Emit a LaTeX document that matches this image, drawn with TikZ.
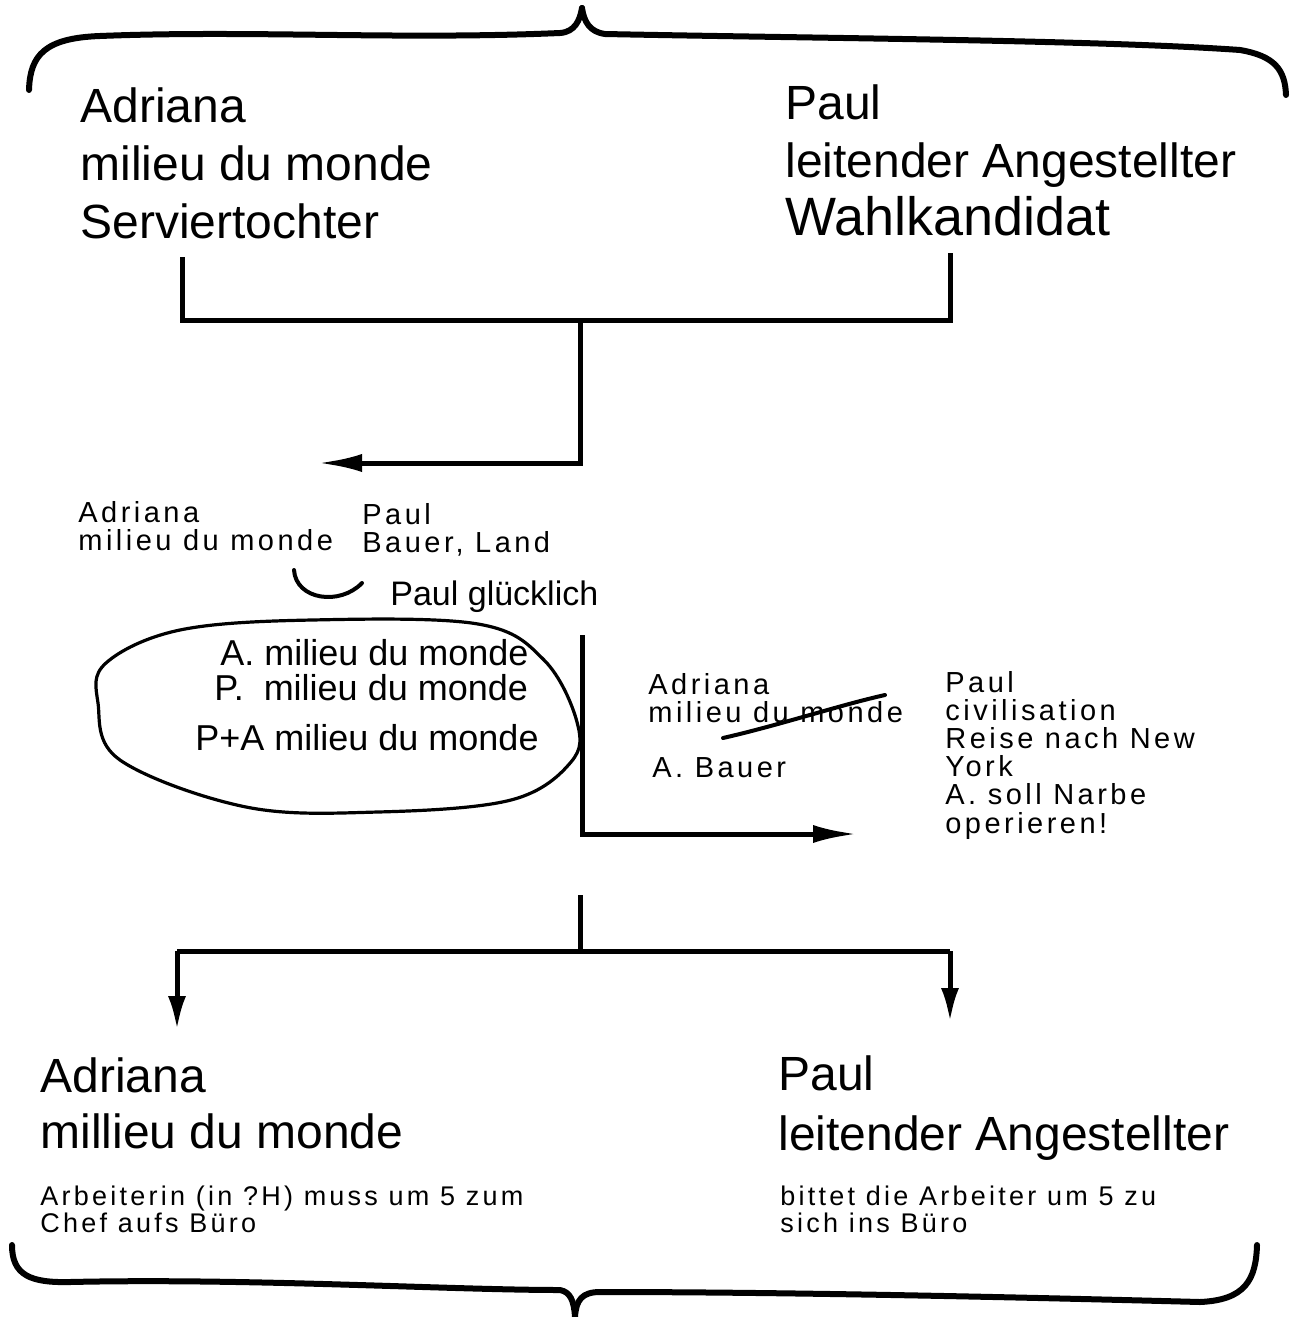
\documentclass[tikz,border=0pt]{standalone}
\usepackage{fontspec}
\setmainfont{Liberation Sans}
\newfontfamily\widesans[LetterSpace=12]{Liberation Sans}
\usetikzlibrary{arrows.meta}
\begin{document}
\begin{tikzpicture}[x=0.5pt,y=-0.5pt,
  txt/.style={anchor=base west,inner sep=0pt,align=left},
  bigtxt/.style={txt,font=\fontsize{24}{29}\selectfont},
  midtxt/.style={txt,font=\widesans\fontsize{14.5}{13.9}\selectfont},
  smalltxt/.style={txt,font=\widesans\fontsize{13.5}{13.2}\selectfont},
  brace/.style={line width=3pt,line cap=round,line join=round},
  conn/.style={line width=2.5pt,line join=miter},
  bigarrow/.style={conn,-{Latex[length=22pt,width=9pt]}},
  downarrow/.style={conn,-{Latex[length=17pt,width=9pt]}},
  blob/.style={line width=1.6pt},
]
\useasboundingbox[fill=white] (0,0) rectangle (1293,1317);

% ---------- braces ----------
\draw[brace] (29,90) .. controls (30,55) and (45,38) .. (100,36)
  .. controls (250,30) and (400,40) .. (560,33)
  .. controls (575,32) and (580,20) .. (582,8);
\draw[brace] (582,8) .. controls (584,22) and (590,32) .. (605,34)
  .. controls (800,38) and (1100,40) .. (1240,50)
  .. controls (1275,56) and (1285,70) .. (1286,95);
\draw[brace] (12,1245) .. controls (12,1275) and (30,1283) .. (70,1282)
  .. controls (250,1278) and (450,1290) .. (560,1290)
  .. controls (570,1292) and (574,1300) .. (575,1317);
\draw[brace] (575,1317) .. controls (576,1300) and (582,1292) .. (600,1292)
  .. controls (800,1292) and (1050,1298) .. (1200,1302)
  .. controls (1245,1300) and (1256,1280) .. (1257,1245);

% ---------- top texts (anchored at baseline of last line) ----------
\node[bigtxt] (topA) at (80,238) {Adriana\\milieu du monde\\Serviertochter};
\node[bigtxt] (topP) at (785,235) {Paul\\leitender Angestellter\\{\fontsize{27}{29}\selectfont Wahlkandidat}};

% ---------- top connector ----------
\coordinate (tA) at (182,257);
\coordinate (tP) at (950,253);
\coordinate (tAb) at (182,320);
\coordinate (tPb) at (950,320);
\coordinate (tJ) at (580,320);
\coordinate (tK) at (580,463);
\coordinate (tEnd) at (318,463);
\draw[conn] (tA) -- (tAb) -- (tPb) -- (tP);
\draw[bigarrow] (tJ) -- (tK) -- (tEnd);

% ---------- middle left ----------
\node[midtxt] (mA) at (78,550) {Adriana\\milieu du monde};
\node[midtxt] (mP) at (362,552) {Paul\\Bauer, Land};
\draw[line width=2pt,line cap=round] (294,570) .. controls (296,600) and (340,606) .. (362,583);
\node[txt,font=\fontsize{17}{17}\selectfont] (glueck) at (390,605) {Paul glücklich};

\draw[blob] plot[smooth cycle,tension=0.6] coordinates {
  (106,663) (98,703) (120,760) (246,807) (378,812) (511,800)
  (571,762) (577,722) (544,660) (478,624) (312,620) (180,630)};
\node[txt,font=\fontsize{18}{18}\selectfont] (e1) at (220,665) {A. milieu du monde};
\node[txt,font=\fontsize{18}{18}\selectfont] (e2) at (214,700) {P.\ \ milieu du monde};
\node[txt,font=\fontsize{18}{18}\selectfont] (e3) at (195,750) {P+A milieu du monde};

% ---------- middle right connector ----------
\coordinate (mTop) at (582,635);
\coordinate (mCorner) at (582,834);
\coordinate (mEnd) at (857,834);
\draw[bigarrow] (mTop) -- (mCorner) -- (mEnd);

% ---------- middle right texts ----------
\node[midtxt] (rA) at (648,722) {Adriana\\milieu du monde};
\draw[line width=2pt,line cap=round] (723,738) .. controls (780,725) and (840,705) .. (885,695);
\node[midtxt] (rAB) at (652,777) {A. Bauer};
\node[midtxt,font=\widesans\fontsize{14.5}{14.1}\selectfont] (rP) at (945,833) {Paul\\civilisation\\Reise nach New\\York\\A. soll Narbe\\operieren!};

% ---------- lower connector ----------
\coordinate (lTop) at (580,895);
\coordinate (lJ) at (580,951);
\coordinate (lL) at (177,951);
\coordinate (lR) at (950,951);
\coordinate (lLend) at (177,1030);
\coordinate (lRend) at (950,1022);
\draw[conn] (lTop) -- (lJ);
\draw[conn] (lJ) -- (lL);
\draw[conn] (lJ) -- (lR);
\draw[downarrow] (lL) -- (lLend);
\draw[downarrow] (lR) -- (lRend);

% ---------- bottom texts ----------
\node[bigtxt,font=\fontsize{24}{28}\selectfont] (bA) at (40,1148) {Adriana\\millieu du monde};
\node[smalltxt] (bA2) at (40,1232) {Arbeiterin (in ?H) muss um 5 zum\\Chef aufs Büro};
\node[bigtxt,font=\fontsize{24}{30}\selectfont] (bP) at (778,1150) {Paul\\leitender Angestellter};
\node[smalltxt] (bP2) at (780,1232) {bittet die Arbeiter um 5 zu\\sich ins Büro};
\end{tikzpicture}
\end{document}
